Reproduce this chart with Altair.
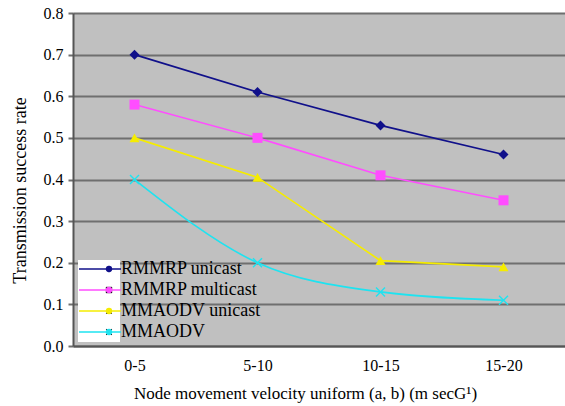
import altair as alt
import pandas as pd

categories = ["0-5", "5-10", "10-15", "15-20"]
series_names = ["RMMRP unicast", "RMMRP multicast", "MMAODV unicast", "MMAODV"]
rmmrp_unicast = [0.70, 0.61, 0.53, 0.46]
rmmrp_multicast = [0.58, 0.50, 0.41, 0.35]
mmaodv_unicast = [0.50, 0.405, 0.205, 0.19]
mmaodv = [0.40, 0.20, 0.13, 0.11]
y_ticks = [0.0, 0.1, 0.2, 0.3, 0.4, 0.5, 0.6, 0.7, 0.8]

colors = ["#10108a", "#ff4dff", "#f5ec00", "#1ee3f0"]
x_shape = "M-1,-0.8L-0.8,-1L0,-0.2L0.8,-1L1,-0.8L0.2,0L1,0.8L0.8,1L0,0.2L-0.8,1L-1,0.8L-0.2,0Z"
shapes = ["diamond", "square", "triangle-up", x_shape]

rows = []
for name, vals in zip(series_names, [rmmrp_unicast, rmmrp_multicast, mmaodv_unicast, mmaodv]):
    for c, v in zip(categories, vals):
        rows.append({"cat": c, "value": v, "series": name})
df = pd.DataFrame(rows)

FONT = "Liberation Serif"
cscale = alt.Scale(domain=series_names, range=colors)
sscale = alt.Scale(domain=series_names, range=shapes)

x_enc = alt.X("cat:O", sort=categories,
              scale=alt.Scale(type="point", padding=0.5),
              axis=alt.Axis(title="Node movement velocity uniform (a, b) (m secG\u00b9)",
                            labelAngle=0, ticks=False, grid=False,
                            domainColor="#555555", domainWidth=2,
                            labelFont=FONT, labelFontSize=16, labelColor="black",
                            labelPadding=11,
                            titleFont=FONT, titleFontSize=17, titleFontWeight="normal",
                            titleColor="black", titleX=232, titleY=47,
                            titleBaseline="middle"))
y_enc = alt.Y("value:Q", scale=alt.Scale(domain=[0, 0.8], nice=False),
              axis=alt.Axis(title="Transmission success rate", values=y_ticks,
                            format=".1f", grid=True, gridColor="#6f6f6f", gridWidth=2,
                            domainColor="#555555", domainWidth=2,
                            tickColor="#6f6f6f", tickSize=5, tickWidth=2,
                            labelFont=FONT, labelFontSize=16, labelColor="black",
                            labelPadding=5,
                            titleFont=FONT, titleFontSize=18, titleFontWeight="normal",
                            titleColor="black", titleX=-53, titleY=177,
                            titleBaseline="middle", titleAlign="center"))

line_legend = alt.Legend(orient="none", legendX=18, legendY=247, title=None,
                         symbolType="M-4.2,0H4.2", symbolSize=100, symbolStrokeWidth=1.5,
                         labelFont=FONT, labelFontSize=18, labelColor="black",
                         labelOffset=12, rowPadding=3, padding=0)
marker_legend = alt.Legend(orient="none", legendX=27, legendY=247, title=None,
                           symbolSize=40, symbolStrokeWidth=0,
                           labelExpr="' '",
                           labelFont=FONT, labelFontSize=18,
                           labelOffset=2, rowPadding=3, padding=0)

base = alt.Chart(df)

legend_bg = alt.Chart(pd.DataFrame({"a": [0]})).mark_rect(color="white").encode(
    x=alt.value(5), x2=alt.value(47), y=alt.value(247), y2=alt.value(329))

straight = base.transform_filter(alt.datum.series != "MMAODV").mark_line(strokeWidth=1.6).encode(
    x=x_enc, y=y_enc,
    color=alt.Color("series:N", scale=cscale, sort=series_names, legend=line_legend))
curved = base.transform_filter(alt.datum.series == "MMAODV").mark_line(
    strokeWidth=1.6, interpolate="monotone").encode(
    x=x_enc, y=y_enc,
    color=alt.Color("series:N", scale=cscale, sort=series_names, legend=line_legend))
lines = alt.layer(straight, curved)

points = base.mark_point(filled=True, size=100, opacity=1).encode(
    x=x_enc, y=y_enc,
    color=alt.Color("series:N", scale=cscale, sort=series_names, legend=marker_legend),
    shape=alt.Shape("series:N", scale=sscale, sort=series_names, legend=marker_legend))

chart = alt.layer(legend_bg, lines, points).resolve_legend(color="independent").properties(
    width=492, height=333,
    autosize=alt.AutoSizeParams(type="none"),
    padding={"left": 73, "top": 13, "right": 0, "bottom": 60},
    background="white",
).configure(font=FONT).configure_view(fill="#c0c0c0", strokeWidth=0)

chart.save("out.html", embed_options={"renderer": "svg", "actions": False})
